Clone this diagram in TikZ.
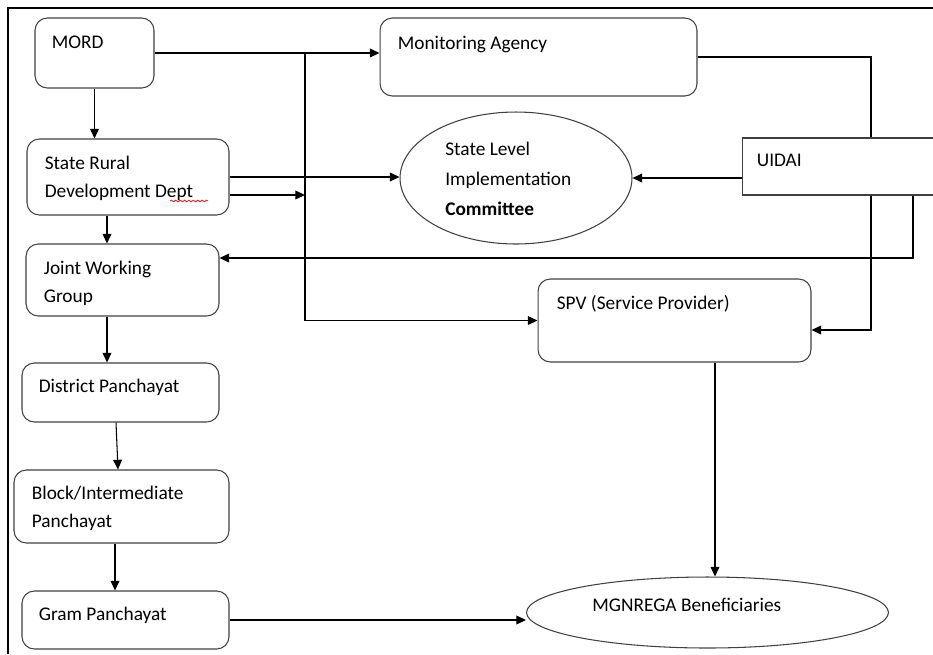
\documentclass[tikz,border=0pt]{standalone}
\usepackage{fontspec}
\setmainfont{Carlito}
\usetikzlibrary{arrows.meta, shapes.geometric, decorations.pathmorphing}

\tikzset{
  box/.style={draw=black!75, line width=0.6pt, rounded corners=7pt, inner sep=0pt},
  plainbox/.style={draw=black!75, line width=0.6pt, inner sep=0pt},
  oval/.style={draw=black!75, line width=0.6pt, ellipse, inner sep=0pt},
  txt/.style={anchor=north west, align=left, inner sep=0pt, font=\fontsize{11}{16}\selectfont},
  arr/.style={line width=0.6pt, -{Triangle[length=5.5pt, width=5pt]}},
  wire/.style={line width=0.6pt},
}

\begin{document}
\begin{tikzpicture}[x=0.02cm, y=-0.02cm]
    \clip (0,0) rectangle (933,654);

    % Marco
    \draw[line width=1.4pt] (8,654) -- (8,8) -- (933,8);

    % Cajas
    \node[box, minimum width=2.38cm, minimum height=1.40cm] (mord) at (94.5,53) {};
    \node[box, minimum width=6.34cm, minimum height=1.56cm] (monitor) at (538.5,57) {};
    \node[box, minimum width=4.04cm, minimum height=1.52cm] (srdd) at (128,177) {};
    \node[oval, minimum width=4.64cm, minimum height=2.64cm] (slic) at (516,178) {};
    \node[plainbox, minimum width=4.06cm, minimum height=1.14cm] (uidai) at (843.5,166.5) {};
    \node[box, minimum width=3.86cm, minimum height=1.44cm] (jwg) at (122.5,280) {};
    \node[box, minimum width=5.46cm, minimum height=1.66cm] (spv) at (674.5,320.5) {};
    \node[box, minimum width=3.94cm, minimum height=1.18cm] (district) at (120.5,392.5) {};
    \node[box, minimum width=4.30cm, minimum height=1.46cm] (block) at (121.5,506.5) {};
    \node[box, minimum width=4.14cm, minimum height=1.16cm] (gram) at (125.5,620) {};
    \node[oval, minimum width=7.24cm, minimum height=1.42cm] (benef) at (707.5,612.5) {};

    % Textos
    \node[txt] (mord-t) at ([shift={(17,18)}]mord.north west) {MORD};
    \node[txt] (monitor-t) at ([shift={(18,18)}]monitor.north west) {Monitoring Agency};
    \node[txt] (srdd-t) at ([shift={(18,17)}]srdd.north west) {State Rural\\Development Dept};
    \node[txt, font=\fontsize{11}{17}\selectfont] (slic-t) at ([shift={(-71,-36)}]slic.center) {State Level\\Implementation\\\textbf{Committee}};
    \node[txt] (uidai-t) at ([shift={(15,16)}]uidai.north west) {UIDAI};
    \node[txt] (jwg-t) at ([shift={(18,17)}]jwg.north west) {Joint Working\\Group};
    \node[txt] (spv-t) at ([shift={(19,17)}]spv.north west) {SPV (Service Provider)};
    \node[txt] (district-t) at ([shift={(17,16)}]district.north west) {District Panchayat};
    \node[txt] (block-t) at ([shift={(18,16)}]block.north west) {Block/Intermediate\\Panchayat};
    \node[txt] (gram-t) at ([shift={(17,16)}]gram.north west) {Gram Panchayat};
    \node[txt] (benef-t) at ([shift={(-115.5,-15)}]benef.center) {MGNREGA Beneficiaries};

    % Subrayado rojo
    \draw[red, decorate, decoration={snake, amplitude=0.5pt, segment length=2.5pt}] (170,201) -- (208,201);

    % Puntos auxiliares
    \coordinate (trunk) at (305,0);
    \coordinate (srddlow) at ([yshift=-0.36cm]srdd.east);
    \coordinate (ua) at ([xshift=0.55cm]uidai.north);
    \coordinate (ub) at ([xshift=0.55cm]uidai.south);
    \coordinate (uc) at ([xshift=1.39cm]uidai.south);
    \coordinate (spvr) at ([yshift=-0.19cm]spv.east);
    \coordinate (jwgr) at ([yshift=0.44cm]jwg.east);
    \coordinate (spvb) at ([xshift=0.81cm]spv.south);
    \coordinate (jwgin) at ([xshift=-0.31cm]jwg.north);
    \coordinate (blkout) at ([xshift=-0.13cm]block.south);

    % Flechas de arriba
    \draw[arr] (mord.east) -- (mord.east -| monitor.west);
    \draw[arr] (mord.east -| trunk) |- (spv.west);
    \draw[arr] (mord.south) -- (mord.south |- srdd.north);
    \draw[arr] (srdd.east) -- (srdd.east -| slic.west);
    \draw[arr] (srddlow) -- (srddlow -| trunk);
    \draw[arr] (uidai.west |- slic.east) -- (slic.east);

    % Lineas de la derecha
    \draw[wire] (monitor.east) -| (ua);
    \draw[arr] (ub) |- (spvr);
    \draw[arr] (uc) |- (jwgr);
    \draw[arr] (spvb) -- (spvb |- benef.north);

    % Cadena de la izquierda
    \draw[arr] (srdd.south -| jwgin) -- (jwgin);
    \draw[arr] (jwgin |- jwg.south) -- (jwgin |- district.north);
    \draw[arr] ([xshift=-0.09cm]district.south) -- ([xshift=-0.07cm]block.north);
    \draw[arr] (blkout) -- (blkout |- gram.north);
    \draw[arr] (gram.east) -- (gram.east -| benef.west);
\end{tikzpicture}
\end{document}
